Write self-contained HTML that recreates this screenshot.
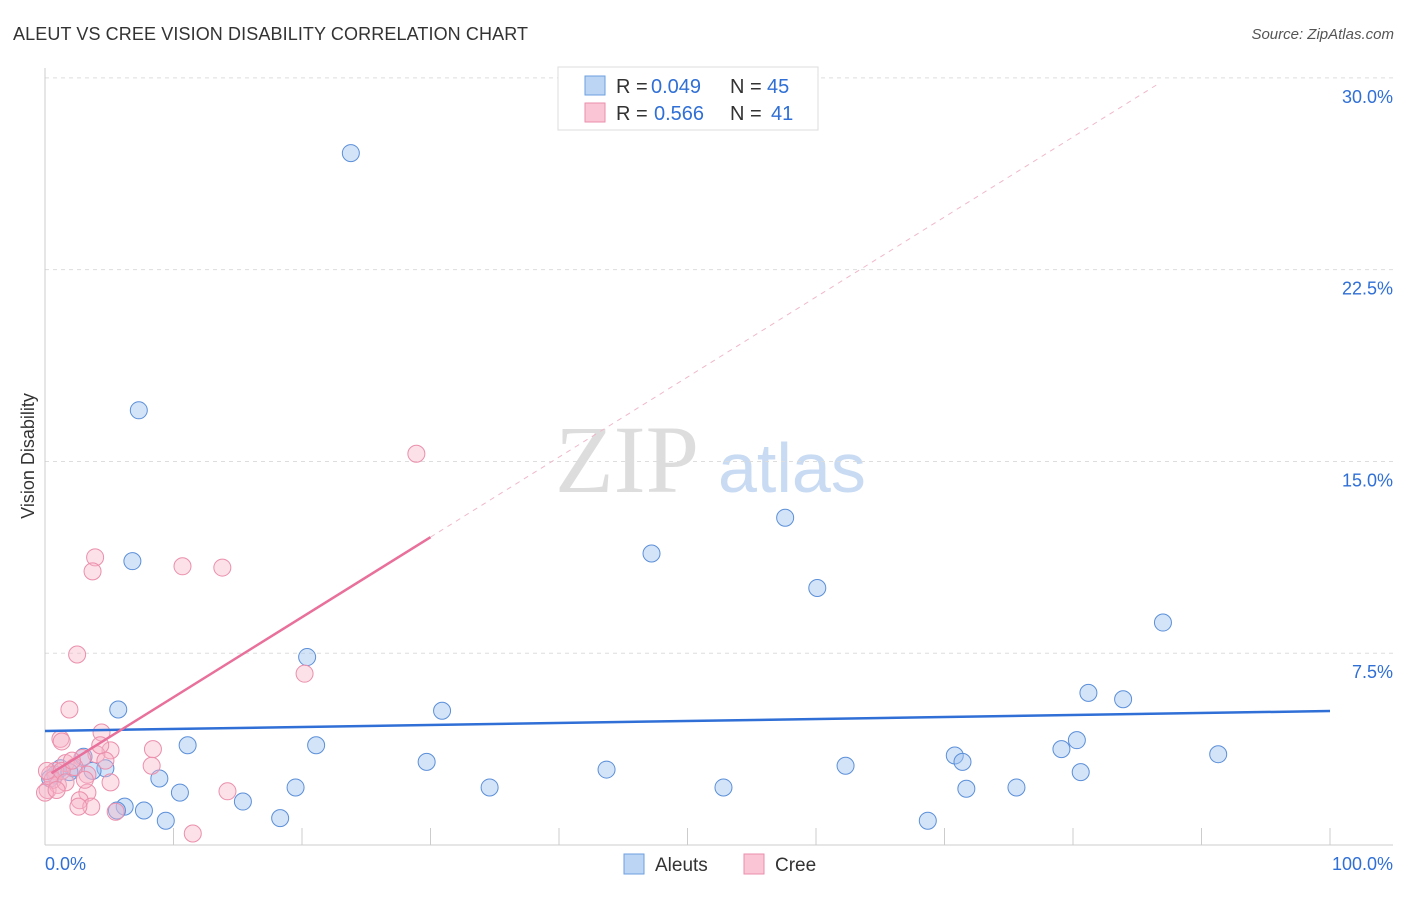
<!DOCTYPE html>
<html><head><meta charset="utf-8"><style>
body{margin:0;background:#fff;font-family:"Liberation Sans",sans-serif;}
</style></head><body>
<svg width="1406" height="892" xmlns="http://www.w3.org/2000/svg" id="chart">
<text x="13" y="40" font-size="18" fill="#333" textLength="515">ALEUT VS CREE VISION DISABILITY CORRELATION CHART</text>
<text x="1394" y="39" font-size="15" fill="#555" font-style="italic" text-anchor="end">Source: ZipAtlas.com</text>
<text x="34" y="456" font-size="18" fill="#333" text-anchor="middle" transform="rotate(-90 34 456)">Vision Disability</text>
<text x="555" y="492" font-size="96" fill="#ddd" font-family="Liberation Serif">ZIP</text>
<text x="718" y="492" font-size="70" fill="#c8dbf3">atlas</text>
<g id="grid"></g><g id="pts"></g><g id="lines"></g>
<g>
<rect x="558" y="67" width="260" height="63" fill="#fff" stroke="#ddd"/>
<rect x="585" y="76" width="20" height="19" fill="#bcd5f5" stroke="#6d9fe0"/>
<rect x="585" y="103" width="20" height="19" fill="#fac6d5" stroke="#eb8fac"/>
<text x="616" y="93" font-size="20" fill="#333">R =</text>
<text x="651" y="93" font-size="20" fill="#2f6fd6">0.049</text>
<text x="730" y="93" font-size="20" fill="#333">N =</text>
<text x="767" y="93" font-size="20" fill="#2f6fd6">45</text>
<text x="616" y="120" font-size="20" fill="#333">R =</text>
<text x="654" y="120" font-size="20" fill="#2f6fd6">0.566</text>
<text x="730" y="120" font-size="20" fill="#333">N =</text>
<text x="771" y="120" font-size="20" fill="#2f6fd6">41</text>
</g>
<g>
<rect x="624" y="854" width="20" height="20" fill="#bcd5f5" stroke="#6d9fe0"/>
<text x="655" y="871" font-size="19" fill="#333">Aleuts</text>
<rect x="744" y="854" width="20" height="20" fill="#fac6d5" stroke="#eb8fac"/>
<text x="775" y="871" font-size="19" fill="#333">Cree</text>
</g>
<text x="45" y="870" font-size="18" fill="#2f6fd6">0.0%</text>
<text x="1393" y="870" font-size="18" fill="#2f6fd6" text-anchor="end">100.0%</text>
</svg>
<script>
const yTicks=[7.5,15,22.5,30];
const yTickLabels=["7.5%","15.0%","22.5%","30.0%"];
const xTicks=[10,20,30,40,50,60,70,80,90,100];
const aleutX=[23.8,7.3,6.8,57.6,47.2,60.1,87.0,20.4,5.7,30.9,81.2,83.9,11.1,21.1,80.3,79.1,70.8,71.4,91.3,29.7,62.3,43.7,4.7,3.7,2.2,3.0,8.9,80.6,19.5,34.6,52.8,71.7,75.6,10.5,15.4,6.2,7.7,5.6,9.4,18.3,68.7,0.8,1.2,0.4,1.9];
const aleutY=[27.06,17.0,11.1,12.8,11.4,10.05,8.7,7.35,5.3,5.25,5.95,5.7,3.9,3.9,4.1,3.75,3.5,3.25,3.55,3.25,3.1,2.95,3.0,2.9,3.0,3.45,2.6,2.85,2.25,2.25,2.25,2.2,2.25,2.05,1.7,1.5,1.35,1.35,0.95,1.05,0.95,2.75,3.0,2.6,2.85];
const creeX=[28.9,3.9,3.7,10.7,13.8,2.5,20.2,1.9,4.4,1.2,1.3,8.4,5.1,4.0,2.9,4.7,8.3,1.6,0.8,0.4,0.2,1.0,2.3,5.1,3.3,14.2,3.3,2.7,3.6,2.6,5.5,11.5,0.6,0.15,1.3,1.6,2.1,0,4.3,3.1,0.9];
const creeY=[15.3,11.25,10.7,10.9,10.85,7.45,6.7,5.3,4.4,4.15,4.05,3.75,3.7,3.55,3.4,3.3,3.1,3.2,2.9,2.75,2.15,2.35,3.05,2.45,2.75,2.1,2.05,1.75,1.5,1.5,1.3,0.45,2.55,2.9,2.9,2.45,3.3,2.05,3.9,2.55,2.15];
const aleutTrend=[4.46,5.24];
const creeTrend={slope:0.313,intercept:2.65};
const NS="http://www.w3.org/2000/svg";
const sx=v=>45+v*12.85, sy=v=>845-v*25.57;
function mk(tag,at,parent){const e=document.createElementNS(NS,tag);for(const k in at)e.setAttribute(k,at[k]);document.getElementById(parent).appendChild(e);return e;}
yTicks.forEach((t,i)=>{
 let l=mk('line',{x1:45,x2:1393,y1:sy(t),y2:sy(t),stroke:'#ddd','stroke-dasharray':'4,4'},'grid');
 
 
 let tx=mk('text',{x:1393,y:sy(t)+25,'font-size':18,fill:'#2f6fd6','text-anchor':'end','font-family':'Liberation Sans'},'grid');
 tx.textContent=yTickLabels[i];
 
 
});
let ax=mk('line',{x1:45,x2:1393,y1:845,y2:845,stroke:'#ccc'},'grid');


let ay=mk('line',{x1:45,x2:45,y1:68,y2:845,stroke:'#ccc'},'grid');


xTicks.forEach(t=>{
 let l=mk('line',{x1:sx(t),x2:sx(t),y1:828,y2:845,stroke:'#ccc'},'grid');
 
 
});
aleutX.forEach((x,i)=>{
 let c=mk('circle',{cx:sx(x),cy:sy(aleutY[i]),r:8.5,fill:'rgba(160,195,240,0.45)',stroke:'#5b8fd9','stroke-width':1},'pts');
 
 
});
creeX.forEach((x,i)=>{
 let c=mk('circle',{cx:sx(x),cy:sy(creeY[i]),r:8.5,fill:'rgba(248,180,200,0.4)',stroke:'#eb8fac','stroke-width':1},'pts');
 
 
});
let bl=mk('line',{x1:sx(0),x2:sx(100),y1:sy(aleutTrend[0]),y2:sy(aleutTrend[1]),stroke:'#2f6fd6','stroke-width':2.5},'lines');


const cy=x=>creeTrend.intercept+creeTrend.slope*x;
let pl=mk('line',{x1:sx(0.5),x2:sx(30),y1:sy(cy(0.5)),y2:sy(cy(30)),stroke:'#e8709a','stroke-width':2.5},'lines');


let pd=mk('line',{x1:sx(30),x2:sx(86.5),y1:sy(cy(30)),y2:sy(cy(86.5)),stroke:'#f0b8c9','stroke-width':1,'stroke-dasharray':'5,5'},'lines');


</script>
</body></html>
